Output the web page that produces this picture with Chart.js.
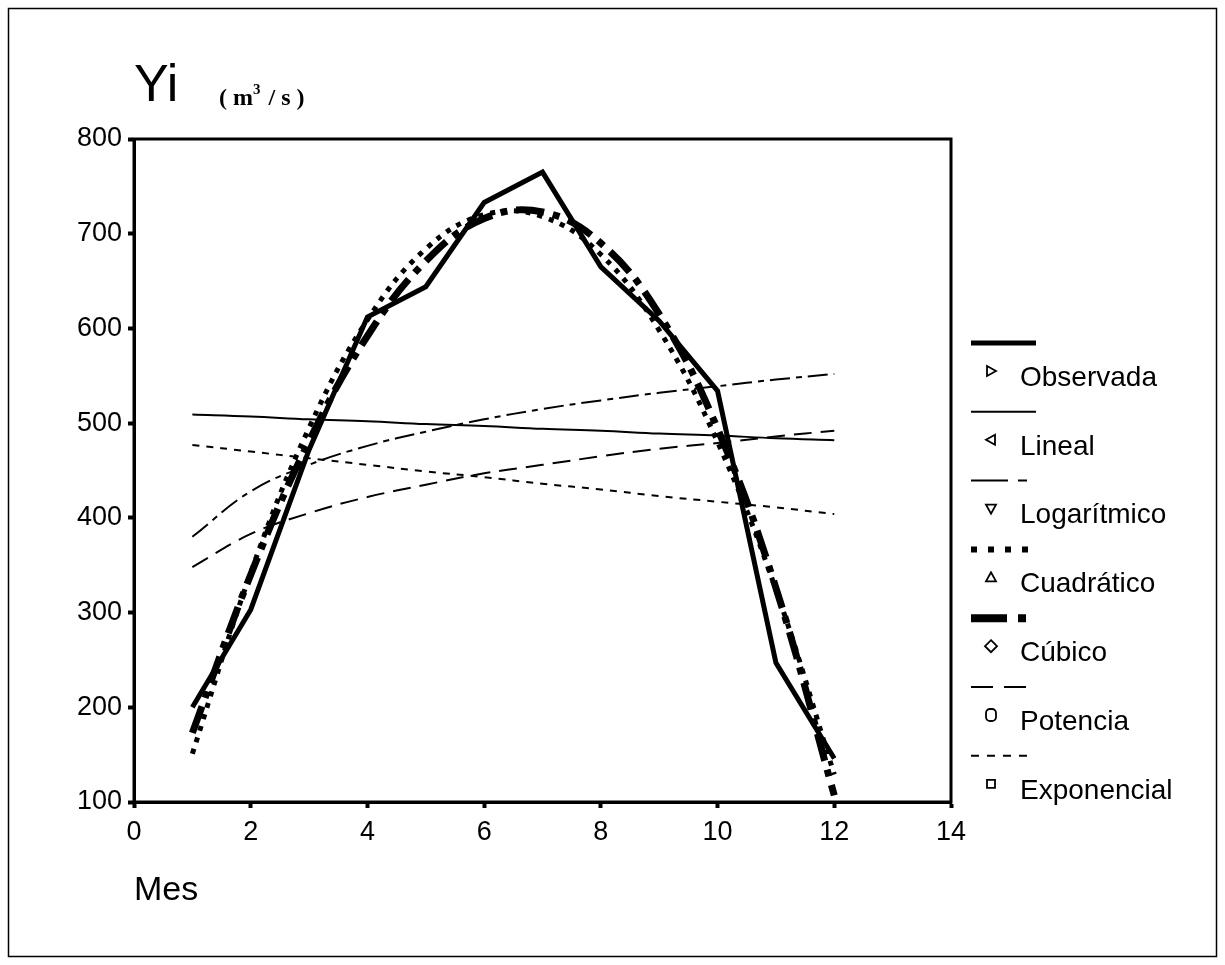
<!DOCTYPE html>
<html>
<head>
<meta charset="utf-8">
<script src="https://cdn.jsdelivr.net/npm/chart.js@4.4.0/dist/chart.umd.min.js"></script>
<style>
  html, body { margin: 0; padding: 0; background: #fff; }
  canvas { display: block; }
</style>
</head>
<body>
<canvas id="grafico" width="1225" height="965"></canvas>
<script>
// Datos (caudal mensual y ajustes)
const meses = [1, 2, 3, 4, 5, 6, 7, 8, 9, 10, 11, 12];
const observada   = [200, 303, 472, 612, 644, 733, 765, 665, 608, 534, 247, 146];
const lineal      = [509, 507, 504, 502, 499, 497, 494, 492, 489, 487, 484, 482];
const logaritmico = [380, 428, 456, 476, 491, 504, 515, 524, 532, 539, 546, 552];
const cuadratico  = [151, 342, 495, 609, 684, 720, 718, 678, 598, 480, 324, 129];
const cubico      = [173, 340, 481, 592, 671, 716, 723, 690, 615, 494, 326, 107];
const potencia    = [348, 383, 405, 422, 435, 447, 456, 465, 473, 479, 486, 492];
const exponencial = [477, 470, 463, 456, 449, 443, 436, 430, 423, 417, 411, 404];

const ticksX = [0, 2, 4, 6, 8, 10, 12, 14];
const ticksY = [100, 200, 300, 400, 500, 600, 700, 800];

const nombres = ['Observada', 'Lineal', 'Logarítmico', 'Cuadrático', 'Cúbico', 'Potencia', 'Exponencial'];
const series = [observada, lineal, logaritmico, cuadratico, cubico, potencia, exponencial];

// estilo de cada línea en el gráfico
const estilos = [
  { width: 5, dash: [], tension: 0 },
  { width: 2, dash: [], tension: 0.4 },
  { width: 2, dash: [20, 6, 6, 6], tension: 0.4 },
  { width: 5, dash: [5, 7], tension: 0.4 },
  { width: 7, dash: [28, 9, 7, 9], tension: 0.4 },
  { width: 2, dash: [18, 9], tension: 0.4 },
  { width: 2, dash: [7, 7], tension: 0.4 }
];

// muestras de la leyenda (línea y marcador)
const muestras = [
  { width: 5, dash: [], len: 65, marca: 'der' },
  { width: 2, dash: [], len: 65, marca: 'izq' },
  { width: 2, dash: [37, 10, 9, 40], len: 56, marca: 'abajo' },
  { width: 6, dash: [6, 11], len: 57, marca: 'arriba' },
  { width: 8, dash: [36, 11, 8, 40], len: 55, marca: 'rombo' },
  { width: 2, dash: [22, 11], len: 55, marca: 'circulo' },
  { width: 2, dash: [8, 8], len: 56, marca: 'cuadro' }
];

function dibujarMarca(ctx, tipo, x, y) {
  ctx.beginPath();
  if (tipo === 'der') {
    ctx.moveTo(x - 4, y - 5); ctx.lineTo(x + 5, y); ctx.lineTo(x - 4, y + 5); ctx.closePath();
  } else if (tipo === 'izq') {
    ctx.moveTo(x + 4, y - 5); ctx.lineTo(x - 5, y); ctx.lineTo(x + 4, y + 5); ctx.closePath();
  } else if (tipo === 'abajo') {
    ctx.moveTo(x - 5, y - 4); ctx.lineTo(x + 5, y - 4); ctx.lineTo(x, y + 5); ctx.closePath();
  } else if (tipo === 'arriba') {
    ctx.moveTo(x - 5, y + 4); ctx.lineTo(x + 5, y + 4); ctx.lineTo(x, y - 5); ctx.closePath();
  } else if (tipo === 'rombo') {
    ctx.moveTo(x, y - 6); ctx.lineTo(x + 6, y); ctx.lineTo(x, y + 6); ctx.lineTo(x - 6, y); ctx.closePath();
  } else if (tipo === 'circulo') {
    ctx.roundRect(x - 5, y - 6, 10, 12, 4);
  } else {
    ctx.rect(x - 4, y - 4, 8, 8);
  }
  ctx.stroke();
}

const decoracion = {
  id: 'decoracion',
  afterDraw(chart) {
    const ctx = chart.ctx;
    const a = chart.chartArea;
    ctx.save();
    ctx.strokeStyle = '#000';
    ctx.fillStyle = '#000';
    ctx.setLineDash([]);

    // caja del área de trazado
    ctx.lineWidth = 3;
    ctx.strokeRect(a.left, a.top, a.right - a.left, a.bottom - a.top);

    // marco exterior
    ctx.lineWidth = 1.5;
    ctx.strokeRect(8.5, 8.5, 1208, 948);

    // título del eje Y
    ctx.textBaseline = 'alphabetic';
    ctx.textAlign = 'left';
    ctx.font = '52px "Liberation Sans", Arial, sans-serif';
    ctx.fillText('Yi', 134, 101);
    ctx.font = 'bold 24px "Liberation Serif", "Times New Roman", serif';
    let x = 219;
    ctx.fillText('( m', x, 105);
    x += ctx.measureText('( m').width;
    ctx.font = 'bold 15px "Liberation Serif", "Times New Roman", serif';
    ctx.fillText('3', x, 94);
    x += ctx.measureText('3').width + 2;
    ctx.font = 'bold 24px "Liberation Serif", "Times New Roman", serif';
    ctx.fillText(' / s )', x, 105);

    // título del eje X
    ctx.font = '34px "Liberation Sans", Arial, sans-serif';
    ctx.fillText('Mes', 134, 900);

    // leyenda
    ctx.font = '28px "Liberation Sans", Arial, sans-serif';
    ctx.textBaseline = 'middle';
    nombres.forEach((nombre, i) => {
      const m = muestras[i];
      const yc = 377 + i * 68.8;
      ctx.lineWidth = m.width;
      ctx.lineCap = 'butt';
      ctx.setLineDash(m.dash);
      ctx.beginPath();
      ctx.moveTo(971, yc - 34);
      ctx.lineTo(971 + m.len, yc - 34);
      ctx.stroke();
      ctx.setLineDash([]);
      ctx.lineWidth = 1.8;
      dibujarMarca(ctx, m.marca, 991, yc - 6);
      ctx.fillText(nombre, 1020, yc + 1);
    });
    ctx.restore();
  }
};

const datasets = series.map((valores, i) => ({
  label: nombres[i],
  data: meses.map((m, j) => ({ x: m, y: valores[j] })),
  borderColor: '#000',
  backgroundColor: '#000',
  borderWidth: estilos[i].width,
  borderDash: estilos[i].dash,
  tension: estilos[i].tension,
  pointRadius: 0,
  fill: false
}));

const fuenteTicks = { family: '"Liberation Sans", Arial, sans-serif', size: 27 };

new Chart(document.getElementById('grafico'), {
  type: 'line',
  data: { datasets: datasets },
  plugins: [decoracion],
  options: {
    responsive: false,
    animation: false,
    layout: { padding: { left: 70, right: 274, top: 139, bottom: 123 } },
    plugins: {
      legend: { display: false },
      tooltip: { enabled: false }
    },
    scales: {
      x: {
        type: 'linear',
        min: 0,
        max: 14,
        afterBuildTicks: (axis) => { axis.ticks = ticksX.map(v => ({ value: v })); },
        afterFit: (axis) => { axis.height = 40; },
        ticks: { color: '#000', font: fuenteTicks, padding: 8, maxRotation: 0 },
        grid: { drawOnChartArea: false, drawTicks: true, tickLength: 6, tickWidth: 4, tickColor: '#000' },
        border: { display: true, color: '#000', width: 3 }
      },
      y: {
        min: 100,
        max: 800,
        afterBuildTicks: (axis) => { axis.ticks = ticksY.map(v => ({ value: v })); },
        afterFit: (axis) => { axis.width = 64; },
        ticks: { color: '#000', font: fuenteTicks, padding: 6 },
        grid: { drawOnChartArea: false, drawTicks: true, tickLength: 6, tickWidth: 4, tickColor: '#000' },
        border: { display: true, color: '#000', width: 3 }
      }
    }
  }
});
</script>
</body>
</html>
